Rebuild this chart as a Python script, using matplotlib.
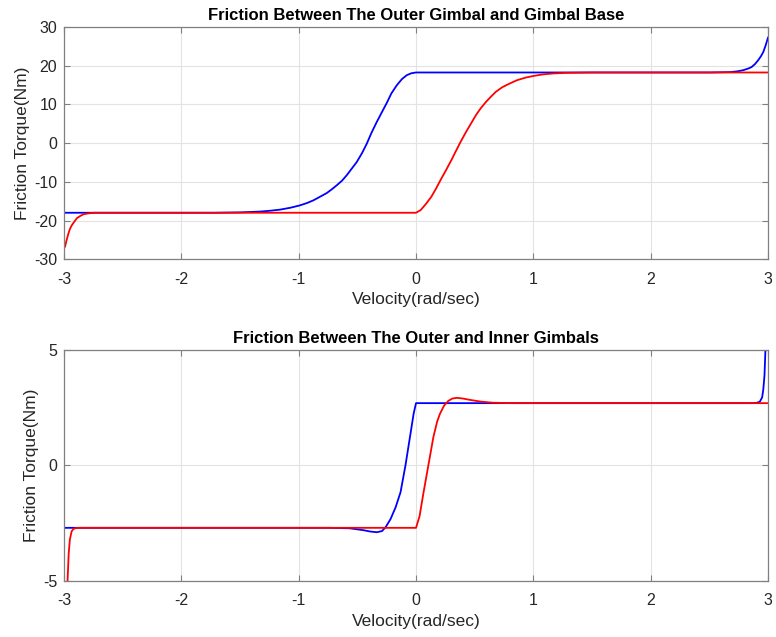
import matplotlib.pyplot as plt
import numpy as np

plt.rcParams['font.family'] = ['Liberation Sans', 'DejaVu Sans']
plt.rcParams['axes.unicode_minus'] = False

# values
# top panel: outer gimbal / gimbal base
base_blue_v = [-3.0, -2.0, -1.72, -1.5, -1.33, -1.25, -1.16, -1.07, -0.99, -0.93,
               -0.875, -0.82, -0.76, -0.72, -0.675, -0.63, -0.59, -0.55, -0.505,
               -0.46, -0.42, -0.38, -0.335, -0.29, -0.25, -0.21, -0.164, -0.12,
               -0.079, -0.04, 0.0,
               2.5, 2.68, 2.74, 2.79, 2.83, 2.86, 2.89, 2.917, 2.94, 2.96, 2.98, 3.0]
base_blue_t = [-18.0, -18.0, -18.0, -17.9, -17.7, -17.5, -17.2, -16.7, -16.1, -15.5,
               -14.8, -13.9, -12.9, -12.0, -10.9, -9.7, -8.3, -6.7, -4.9,
               -2.6, -0.2, 2.6, 5.4, 8.0, 10.3, 12.8, 14.9, 16.5,
               17.5, 18.0, 18.2,
               18.2, 18.3, 18.5, 18.8, 19.2, 19.6, 20.4, 21.4, 22.4, 23.5, 25.2, 27.2]
base_red_v = [-3.0, -2.99, -2.98, -2.963, -2.95, -2.935, -2.91, -2.89, -2.86, -2.835,
              -2.8, -2.75, -2.5, 0.0,
              0.04, 0.085, 0.13, 0.17, 0.21, 0.255, 0.3, 0.34, 0.38, 0.426, 0.47,
              0.51, 0.55, 0.596, 0.64, 0.68, 0.735, 0.795, 0.86, 0.937, 1.0,
              1.08, 1.17, 1.28, 1.5, 3.0]
base_red_t = [-27.2, -26.6, -25.3, -23.4, -22.2, -21.3, -20.2, -19.4, -18.8, -18.4,
              -18.2, -18.0, -18.0, -18.0,
              -17.3, -15.7, -13.9, -11.8, -9.5, -7.05, -4.5, -2.07, 0.3, 2.84, 5.1,
              7.16, 8.9, 10.6, 12.0, 13.2, 14.4, 15.3, 16.2, 16.9, 17.3,
              17.7, 17.95, 18.1, 18.2, 18.2]

# bottom panel: outer / inner gimbals
inner_blue_v = [-3.0, -0.737, -0.565, -0.45, -0.39, -0.334, -0.29, -0.26, -0.217,
                -0.174, -0.132, -0.09, -0.047, -0.02, 0.0,
                2.85, 2.9, 2.93, 2.95, 2.96, 2.97, 2.978, 2.99, 3.0]
inner_blue_t = [-2.7, -2.7, -2.72, -2.8, -2.86, -2.89, -2.84, -2.68, -2.32,
                -1.81, -1.16, 0.0, 1.38, 2.25, 2.7,
                2.7, 2.71, 2.76, 2.95, 3.3, 3.9, 5.0, 6.5, 8.0]
inner_red_v = [-3.0, -2.985, -2.97, -2.96, -2.95, -2.935, -2.92, -2.9, -2.85, 0.0,
               0.03, 0.062, 0.105, 0.148, 0.18, 0.205, 0.24, 0.276, 0.31, 0.347,
               0.4, 0.45, 0.546, 0.65, 0.8, 3.0]
inner_red_t = [-9.0, -6.4, -5.0, -3.8, -3.2, -2.85, -2.75, -2.71, -2.7, -2.7,
               -2.2, -1.23, 0.0, 1.23, 1.9, 2.25, 2.6, 2.8, 2.9, 2.93,
               2.9, 2.85, 2.77, 2.72, 2.7, 2.7]

fig = plt.figure(figsize=(7.76, 6.37), dpi=100)
ax1 = fig.add_axes([0.0825, 0.593, 0.9072, 0.365])
ax2 = fig.add_axes([0.0825, 0.088, 0.9072, 0.3625])

def style_axes(ax, yticks, title):
    ax.set_xlim(-3, 3)
    ax.set_ylim(yticks[0], yticks[-1])
    ax.set_xticks(range(-3, 4))
    ax.set_yticks(yticks)
    ax.grid(True, color='#e3e3e3', linewidth=0.8)
    ax.set_axisbelow(True)
    ax.tick_params(direction='in', top=True, right=True, length=4,
                   labelsize=11.5, colors='#808080', labelcolor='#262626', pad=5)
    ax.tick_params(axis='x', pad=9)
    for s in ax.spines.values():
        s.set_color('#808080')
        s.set_linewidth(0.9)
    ax.set_xlabel('Velocity(rad/sec)', fontsize=12.5, color='#262626', labelpad=4)
    ax.set_ylabel('Friction Torque(Nm)', fontsize=12.5, color='#262626', labelpad=3)
    ax.set_title(title, fontsize=12, fontweight='bold', color='black', pad=5)

ax1.plot(base_blue_v, base_blue_t, color='b', linewidth=1.3)
ax1.plot(base_red_v, base_red_t, color='r', linewidth=1.3)
style_axes(ax1, [-30, -20, -10, 0, 10, 20, 30],
           'Friction Between The Outer Gimbal and Gimbal Base')

ax2.plot(inner_blue_v, inner_blue_t, color='b', linewidth=1.3)
ax2.plot(inner_red_v, inner_red_t, color='r', linewidth=1.3)
style_axes(ax2, [-5, 0, 5], 'Friction Between The Outer and Inner Gimbals')

fig.savefig('out.png', dpi=100)
